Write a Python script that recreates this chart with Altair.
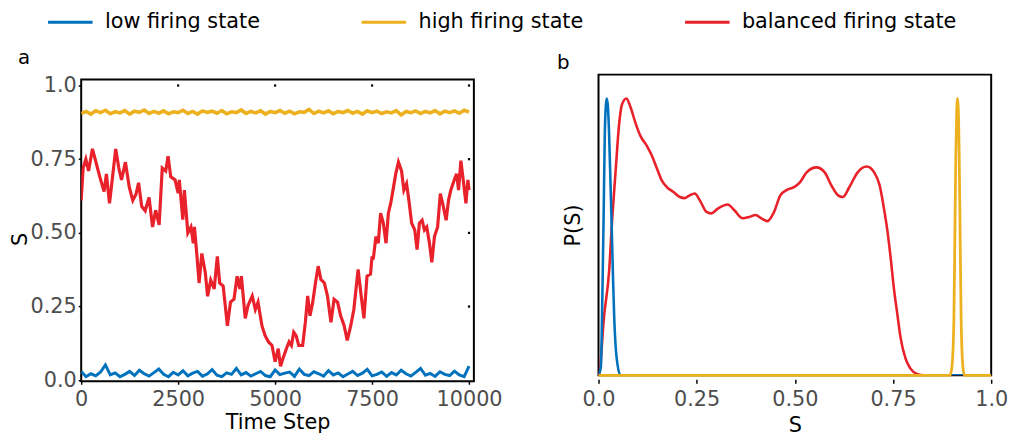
import altair as alt
import pandas as pd

FONT = "DejaVu Sans"
STATES = ["low firing state", "high firing state", "balanced firing state"]
COLORS = ["#0072BD", "#EDB120", "#E8212A"]

# ---------------- panel a: time series ----------------
low_ts = [0.030, 0.012, 0.022, 0.015, 0.028, 0.052, 0.018, 0.025, 0.012, 0.020,
          0.030, 0.016, 0.034, 0.022, 0.014, 0.026, 0.038, 0.020, 0.012, 0.027,
          0.018, 0.032, 0.015, 0.024, 0.030, 0.014, 0.021, 0.036, 0.017, 0.012,
          0.025, 0.020, 0.040, 0.018, 0.026, 0.014, 0.022, 0.030, 0.016, 0.012,
          0.035, 0.019, 0.024, 0.028, 0.013, 0.038, 0.020, 0.016, 0.029, 0.022,
          0.014, 0.033, 0.018, 0.025, 0.012, 0.021, 0.030, 0.016, 0.024, 0.037,
          0.015, 0.020, 0.028, 0.013, 0.026, 0.018, 0.034, 0.022, 0.014, 0.027,
          0.040, 0.017, 0.023, 0.013, 0.029, 0.020, 0.016, 0.031, 0.018, 0.012,
          0.048]

high_ts = [0.905, 0.912, 0.903, 0.914, 0.908, 0.916, 0.904, 0.911, 0.907, 0.915,
           0.903, 0.913, 0.909, 0.917, 0.905, 0.912, 0.906, 0.914, 0.904, 0.911,
           0.908, 0.916, 0.905, 0.912, 0.903, 0.914, 0.909, 0.913, 0.906, 0.915,
           0.904, 0.911, 0.908, 0.917, 0.905, 0.912, 0.907, 0.914, 0.903, 0.912,
           0.908, 0.915, 0.906, 0.913, 0.904, 0.911, 0.909, 0.919, 0.905, 0.913,
           0.907, 0.914, 0.904, 0.912, 0.908, 0.915, 0.906, 0.912, 0.903, 0.914,
           0.908, 0.913, 0.905, 0.911, 0.907, 0.915, 0.900, 0.912, 0.908, 0.914,
           0.905, 0.912, 0.907, 0.915, 0.904, 0.913, 0.908, 0.914, 0.906, 0.916,
           0.910]

bal_t = [0, 50, 120, 190, 290, 370, 480, 590, 650, 730,
         800, 890, 970, 1040, 1140, 1240, 1330, 1410, 1480, 1560,
         1650, 1750, 1840, 1920, 2010, 2090, 2180, 2240, 2310, 2420,
         2500, 2530, 2620, 2660, 2750, 2830, 2890, 2920, 2980, 3040,
         3110, 3200, 3260, 3340, 3430, 3510, 3570, 3660, 3770, 3850,
         3940, 4020, 4090, 4130, 4230, 4300, 4410, 4490, 4560, 4660,
         4740, 4830, 4920, 5000, 5080, 5140, 5200, 5290, 5360, 5420,
         5480, 5540, 5610, 5710, 5780, 5840, 5900, 5970, 6040, 6110,
         6180, 6270, 6350, 6440, 6520, 6610, 6690, 6780, 6860, 6950,
         7030, 7140, 7230, 7290, 7370, 7460, 7500, 7530, 7600, 7660,
         7720, 7790, 7860, 7920, 7980, 8040, 8110, 8180, 8260, 8320,
         8390, 8450, 8520, 8600, 8660, 8720, 8790, 8850, 8910, 8980,
         9040, 9110, 9190, 9260, 9320, 9410, 9470, 9530, 9620, 9680,
         9730, 9790, 9850, 9920, 9970, 10000]
bal_ts = [0.61, 0.72, 0.75, 0.71, 0.785, 0.745, 0.69, 0.64, 0.70, 0.60,
          0.68, 0.785, 0.72, 0.68, 0.74, 0.655, 0.61, 0.63, 0.67, 0.59,
          0.575, 0.62, 0.52, 0.577, 0.527, 0.72, 0.71, 0.76, 0.69, 0.68,
          0.635, 0.68, 0.545, 0.645, 0.50, 0.52, 0.465, 0.52, 0.43, 0.33,
          0.43, 0.365, 0.285, 0.34, 0.31, 0.42, 0.33, 0.32, 0.185, 0.265,
          0.275, 0.353, 0.31, 0.353, 0.21, 0.253, 0.286, 0.24, 0.265, 0.185,
          0.152, 0.13, 0.118, 0.063, 0.107, 0.047, 0.073, 0.107, 0.13, 0.118,
          0.163, 0.152, 0.118, 0.118, 0.197, 0.286, 0.219, 0.265, 0.33, 0.387,
          0.342, 0.33, 0.286, 0.197, 0.275, 0.265, 0.219, 0.185, 0.135, 0.185,
          0.24, 0.376, 0.275, 0.21, 0.353, 0.36, 0.42, 0.41, 0.488, 0.465,
          0.567, 0.533, 0.465, 0.567, 0.60, 0.645, 0.70, 0.74, 0.71, 0.645,
          0.667, 0.61, 0.533, 0.51, 0.443, 0.533, 0.543, 0.51, 0.52, 0.465,
          0.40, 0.488, 0.52, 0.633, 0.60, 0.543, 0.61, 0.645, 0.68, 0.70,
          0.645, 0.745, 0.68, 0.60, 0.68, 0.645]

x_ticks_a = [0, 2500, 5000, 7500, 10000]
y_ticks_a = [0, 0.25, 0.5, 0.75, 1.0]
# small marker dots along the top and right edges (mirror ticks)
edge_dot_x = [2500, 5000, 7500, 10000, 10000, 10000, 10000]
edge_dot_y = [1.0, 1.0, 1.0, 1.0, 0.75, 0.5, 0.25]

# ---------------- panel b: distributions P(S) ----------------
low_s = [0.0, 0.006, 0.010, 0.013, 0.016, 0.019, 0.021, 0.024, 0.027, 0.030,
         0.033, 0.037, 0.040, 0.046, 0.056, 0.08, 1.0]
low_p = [0.0, 0.03, 0.30, 0.57, 0.87, 0.98, 1.0, 0.97, 0.87, 0.72,
         0.57, 0.35, 0.21, 0.066, 0.0, 0.0, 0.0]

high_s = [0.0, 0.895, 0.900, 0.905, 0.9075, 0.910, 0.9125, 0.914, 0.916, 0.9185,
          0.921, 0.9235, 0.928, 0.932, 1.0]
high_p = [0.0, 0.0, 0.03, 0.2, 0.5, 0.8, 0.97, 1.0, 0.97, 0.8,
          0.5, 0.2, 0.03, 0.0, 0.0]

bal_s = [0.0, 0.002, 0.014, 0.027, 0.035, 0.044, 0.052, 0.060, 0.071, 0.081,
         0.094, 0.107, 0.123, 0.136, 0.149, 0.161, 0.174, 0.191, 0.207, 0.220,
         0.232, 0.245, 0.258, 0.275, 0.287, 0.304, 0.329, 0.346, 0.367, 0.384,
         0.400, 0.415, 0.430, 0.447, 0.463, 0.480, 0.498, 0.513, 0.530, 0.555,
         0.576, 0.593, 0.610, 0.622, 0.639, 0.660, 0.683, 0.702, 0.716, 0.727,
         0.736, 0.744, 0.752, 0.761, 0.769, 0.782, 0.794, 0.811, 0.830, 1.0]
bal_p = [0.0, 0.007, 0.211, 0.376, 0.568, 0.746, 0.90, 0.979, 1.0, 0.971,
         0.912, 0.864, 0.829, 0.793, 0.746, 0.704, 0.68, 0.662, 0.644, 0.640,
         0.65, 0.657, 0.632, 0.59, 0.585, 0.602, 0.617, 0.596, 0.567, 0.572,
         0.579, 0.567, 0.557, 0.59, 0.65, 0.67, 0.68, 0.697, 0.733, 0.751,
         0.733, 0.686, 0.65, 0.644, 0.68, 0.733, 0.754, 0.733, 0.686, 0.602,
         0.519, 0.424, 0.317, 0.221, 0.138, 0.06, 0.025, 0.005, 0.0, 0.0]

s_ticks_b = [0, 0.25, 0.5, 0.75, 1.0]

LABEL_EXPR = ("datum.value == 0 ? '0.0' : datum.value == 1 ? '1.0' : "
              "format(datum.value, '.2f')")

PW = 397          # plot width (both panels)
PH = 310          # panel a cell height (frame drawn 5px lower than the top)
PHB = 304         # panel b height


def series_df(xs, ys, state, xname, yname):
    return pd.DataFrame({xname: xs, yname: ys, "state": [state] * len(xs)})


color = alt.Color(
    "state:N",
    scale=alt.Scale(domain=STATES, range=COLORS),
    legend=alt.Legend(title=None),
)

one_row = pd.DataFrame({"lab": ["a"]})


def frame(top, bottom):
    return alt.Chart(one_row).mark_rect(
        fill=None, stroke="black", strokeWidth=2, fillOpacity=0
    ).encode(x=alt.value(0), x2=alt.value(PW), y=alt.value(top), y2=alt.value(bottom))


# ---------- panel a ----------
xa = alt.X(
    "t:Q",
    scale=alt.Scale(domain=[0, 10125], nice=False, zero=False),
    axis=alt.Axis(values=x_ticks_a, format="d", title="Time Step",
                  tickSize=3, labelPadding=5, titlePadding=2, domain=False,
                  labelFlush=False),
)
ya = alt.Y(
    "S:Q",
    scale=alt.Scale(domain=[-0.0034, 1.0369], nice=False, zero=False),
    axis=alt.Axis(values=y_ticks_a, labelExpr=LABEL_EXPR, title="S",
                  tickSize=3, labelPadding=2, titlePadding=0, titleY=166,
                  domain=False, labelFlush=False),
)

n_low = len(low_ts)
n_high = len(high_ts)
low_df = series_df([i * 10000 / (n_low - 1) for i in range(n_low)], low_ts,
                   STATES[0], "t", "S")
high_df = series_df([i * 10000 / (n_high - 1) for i in range(n_high)], high_ts,
                    STATES[1], "t", "S")
bal_df = series_df(bal_t, bal_ts, STATES[2], "t", "S")

a_low = alt.Chart(low_df).mark_line(strokeWidth=3.0, clip=True).encode(x=xa, y=ya, color=color)
a_high = alt.Chart(high_df).mark_line(strokeWidth=3.6, clip=True).encode(x=xa, y=ya, color=color)
a_bal = alt.Chart(bal_df).mark_line(strokeWidth=3.2, clip=True).encode(x=xa, y=ya, color=color)
a_dots = alt.Chart(pd.DataFrame({"t": edge_dot_x, "S": edge_dot_y})).mark_square(
    size=5, color="black", opacity=1).encode(x=xa, y=ya)
a_label = alt.Chart(pd.DataFrame({"lab": ["a"]})).mark_text(
    font=FONT, fontSize=20, align="left", baseline="alphabetic", color="black"
).encode(x=alt.value(-64), y=alt.value(-11), text="lab:N")

panel_a = alt.layer(frame(5, PH), a_low, a_high, a_bal, a_dots, a_label).properties(
    width=PW, height=PH)

# ---------- panel b ----------
xb = alt.X(
    "S:Q",
    scale=alt.Scale(domain=[0, 1], nice=False, zero=False),
    axis=alt.Axis(values=s_ticks_b, labelExpr=LABEL_EXPR, title="S",
                  tickSize=4, offset=4, labelPadding=6, titlePadding=5,
                  domain=False, labelFlush=False),
)
yb = alt.Y(
    "P:Q",
    scale=alt.Scale(domain=[0, 1.086], nice=False, zero=False),
    axis=alt.Axis(title="P(S)", labels=False, ticks=False, domain=False,
                  titlePadding=15),
)

b_low = alt.Chart(series_df(low_s, low_p, STATES[0], "S", "P")).mark_line(
    strokeWidth=2.6, interpolate="monotone", clip=True).encode(x=xb, y=yb, color=color)
b_high = alt.Chart(series_df(high_s, high_p, STATES[1], "S", "P")).mark_line(
    strokeWidth=2.8, interpolate="monotone", clip=False).encode(x=xb, y=yb, color=color)
b_bal = alt.Chart(series_df(bal_s, bal_p, STATES[2], "S", "P")).mark_line(
    strokeWidth=2.6, interpolate="monotone", clip=True).encode(x=xb, y=yb, color=color)
b_label = alt.Chart(pd.DataFrame({"lab": ["b"]})).mark_text(
    font=FONT, fontSize=20, align="left", baseline="alphabetic", color="black"
).encode(x=alt.value(-42), y=alt.value(-6), text="lab:N")

panel_b = alt.layer(frame(0, PHB), b_bal, b_low, b_high, b_label).properties(
    width=PW, height=PHB)

chart = (
    alt.hconcat(panel_a, panel_b, spacing=55)
    .properties(padding={"left": 1, "top": -12, "right": 0, "bottom": 0})
    .configure_view(stroke=None)
    .configure_axis(
        labelFont=FONT, titleFont=FONT, labelFontSize=21, titleFontSize=21,
        labelColor="#4d4d4d", titleColor="black", titleFontWeight="normal",
        tickColor="black", tickWidth=1.5, grid=False,
    )
    .configure_legend(
        orient="none", legendX=-35, legendY=-77, direction="horizontal",
        symbolType="stroke", symbolSize=2025, symbolStrokeWidth=3,
        labelFont=FONT, labelFontSize=21, labelColor="black", labelOffset=11,
        columnPadding=96, padding=0, labelLimit=400,
    )
)

chart.save("out.html", embed_options={"renderer": "svg", "actions": False})
